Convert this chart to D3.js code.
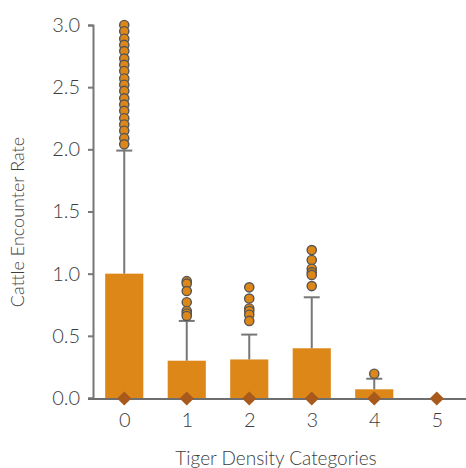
<!DOCTYPE html>
<html>
<head>
<meta charset="utf-8">
<script src="https://cdn.jsdelivr.net/npm/d3@7"></script>
<style>
  html, body { margin: 0; padding: 0; background: #fff; }
  svg text { font-family: "Lato", "Open Sans", sans-serif; font-weight: 300; fill: #3d3d3d; }
</style>
</head>
<body>
<svg id="chart" width="466" height="468"></svg>
<script>
// Tiger density categories on the x axis
const categories = ["0", "1", "2", "3", "4", "5"];
// Bar height (upper quartile) per category
const barValues = [1.0, 0.30, 0.31, 0.40, 0.07, 0.0];
// Upper whisker end per category (null = no whisker)
const whiskerTops = [1.99, 0.62, 0.51, 0.81, 0.155, null];
// Median per category, drawn as a diamond
const medians = [0, 0, 0, 0, 0, 0];
// Outlying encounter rates per category
const outliers0 = [3.00, 2.95, 2.89, 2.84, 2.79, 2.73, 2.68, 2.63, 2.57, 2.52,
                   2.47, 2.41, 2.36, 2.31, 2.25, 2.20, 2.15, 2.09, 2.04];
const outliers1 = [0.94, 0.92, 0.86, 0.77, 0.70, 0.68, 0.66];
const outliers2 = [0.89, 0.80, 0.72, 0.70, 0.67, 0.62];
const outliers3 = [1.19, 1.11, 1.04, 1.01, 0.99, 0.90];
const outliers4 = [0.195];
const outliers5 = [];
const yTicks = [0, 0.5, 1.0, 1.5, 2.0, 2.5, 3.0];

const outlierSets = [outliers0, outliers1, outliers2, outliers3, outliers4, outliers5];

const svg = d3.select("#chart");
const plotLeft = 93, plotRight = 468, plotTop = 25, plotBottom = 398;

const x = d3.scaleBand().domain(categories).range([plotLeft, plotRight])
  .paddingInner(0.39).paddingOuter(0.195);
const y = d3.scaleLinear().domain([0, 3]).range([plotBottom, plotTop]);
const cx = c => x(c) + x.bandwidth() / 2;

const barColor = "#dc8718";
const axisColor = "#777";

// y axis
const yAxis = svg.append("g").attr("transform", `translate(${plotLeft},0)`)
  .call(d3.axisLeft(y).tickValues(yTicks).tickFormat(d3.format(".1f")).tickSize(5).tickPadding(8));
yAxis.attr("font-family", null).attr("font-size", null);
yAxis.select(".domain").attr("stroke", axisColor).attr("stroke-width", 2);
yAxis.selectAll(".tick line").attr("stroke", axisColor).attr("stroke-width", 2);
yAxis.selectAll(".tick text").attr("font-size", 20).attr("fill", "#3d3d3d");

// bars
svg.append("g").selectAll("rect").data(categories).join("rect")
  .attr("x", c => x(c))
  .attr("width", x.bandwidth())
  .attr("y", (c, i) => y(barValues[i]))
  .attr("height", (c, i) => y(0) - y(barValues[i]))
  .attr("fill", barColor);

// whiskers with caps
const wg = svg.append("g").attr("stroke", axisColor).attr("stroke-width", 2);
categories.forEach((c, i) => {
  if (whiskerTops[i] == null) return;
  wg.append("line").attr("x1", cx(c)).attr("x2", cx(c))
    .attr("y1", y(barValues[i])).attr("y2", y(whiskerTops[i]));
  wg.append("line").attr("x1", cx(c) - 8).attr("x2", cx(c) + 8)
    .attr("y1", y(whiskerTops[i])).attr("y2", y(whiskerTops[i]));
});

// x axis line
svg.append("line")
  .attr("x1", plotLeft - 5).attr("x2", 466)
  .attr("y1", y(0) + 1).attr("y2", y(0) + 1)
  .attr("stroke", "#6e6e6e").attr("stroke-width", 2.2);

// x tick labels
svg.append("g").selectAll("text").data(categories).join("text")
  .attr("x", c => cx(c) + 0.5).attr("y", 427)
  .attr("text-anchor", "middle").attr("font-size", 20)
  .text(c => c);

// outlier points
const og = svg.append("g");
categories.forEach((c, i) => {
  og.selectAll(null).data(outlierSets[i]).join("circle")
    .attr("cx", cx(c)).attr("cy", v => y(v)).attr("r", 4.6)
    .attr("fill", barColor).attr("stroke", "#555").attr("stroke-width", 1.4);
});

// median diamonds
const diamond = d3.symbol().type(d3.symbolSquare).size(100);
svg.append("g").selectAll("path").data(categories).join("path")
  .attr("d", diamond)
  .attr("transform", (c, i) => `translate(${cx(c)},${y(medians[i]) + 0.5}) rotate(45)`)
  .attr("fill", "#a85a1c");

// axis titles
svg.append("text")
  .attr("transform", "translate(24,222) rotate(-90)")
  .attr("text-anchor", "middle").attr("font-size", 18)
  .text("Cattle Encounter Rate");
svg.append("text")
  .attr("x", 276).attr("y", 465)
  .attr("text-anchor", "middle").attr("font-size", 19)
  .text("Tiger Density Categories");
</script>
</body>
</html>
